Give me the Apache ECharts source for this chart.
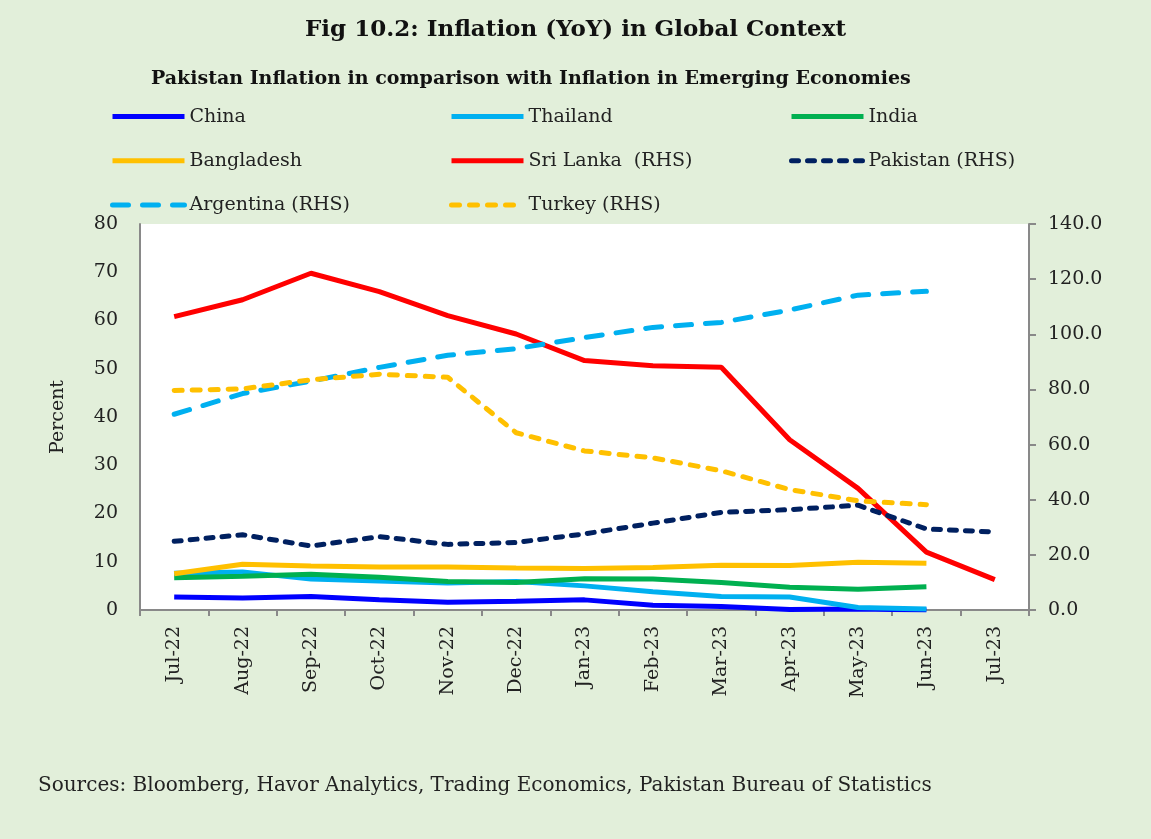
<!DOCTYPE html>
<html>
<head>
<meta charset="utf-8">
<title>Inflation in Global Context</title>
<script src="https://cdn.jsdelivr.net/npm/echarts@6/dist/echarts.min.js"></script>
<style>
  html, body { margin: 0; padding: 0; background: #e2efda; }
</style>
</head>
<body>
<div id="main" style="width: 1151px; height: 839px;"></div>
<script type="text/javascript">
// months on the x axis
var months = ['Jul-22', 'Aug-22', 'Sep-22', 'Oct-22', 'Nov-22', 'Dec-22',
              'Jan-23', 'Feb-23', 'Mar-23', 'Apr-23', 'May-23', 'Jun-23', 'Jul-23'];

// left axis (percent)
var china      = [2.7, 2.5, 2.8, 2.1, 1.6, 1.8, 2.1, 1.0, 0.7, 0.1, 0.2, 0.0, null];
var thailand   = [7.6, 7.9, 6.4, 6.0, 5.6, 5.9, 5.0, 3.8, 2.8, 2.7, 0.5, 0.2, null];
var india      = [6.7, 7.0, 7.4, 6.8, 5.9, 5.7, 6.5, 6.4, 5.7, 4.7, 4.3, 4.8, null];
var bangladesh = [7.5, 9.5, 9.1, 8.9, 8.9, 8.7, 8.6, 8.8, 9.3, 9.2, 9.9, 9.7, null];
var sriLanka   = [60.8, 64.3, 69.8, 66.0, 61.0, 57.2, 51.7, 50.6, 50.3, 35.3, 25.2, 12.0, 6.3];

// right axis
var pakistan   = [24.9, 27.3, 23.2, 26.6, 23.8, 24.5, 27.6, 31.5, 35.4, 36.4, 38.0, 29.4, 28.3];
var argentina  = [71.0, 78.5, 83.0, 88.0, 92.4, 94.8, 98.8, 102.5, 104.3, 108.8, 114.2, 115.6, null];
var turkey     = [79.6, 80.2, 83.5, 85.5, 84.4, 64.3, 57.7, 55.2, 50.5, 43.7, 39.6, 38.2, null];

var leftTicks = { min: 0, max: 80, interval: 10 };
var rightTicks = { min: 0, max: 140, interval: 20 };

var font = '"DejaVu Serif", "Liberation Serif", serif';

function line(name, data, color, axis, dash) {
  return {
    name: name,
    type: 'line',
    data: data,
    yAxisIndex: axis,
    showSymbol: false,
    symbol: 'none',
    connectNulls: false,
    lineStyle: {
      color: color,
      width: 5,
      type: dash || 'solid',
      cap: dash ? 'round' : 'butt'
    },
    itemStyle: { color: color }
  };
}

var myChart = echarts.init(document.getElementById('main'));

var legendText = { fontFamily: font, fontSize: 19, color: '#222' };

function legendCol(names, x) {
  return {
    data: names,
    orient: 'vertical', left: x, top: 102, itemGap: 25,
    itemWidth: 72, itemHeight: 24,
    itemStyle: { opacity: 0 },
    lineStyle: { width: 5 },
    textStyle: legendText
  };
}

var option = {
  backgroundColor: '#e2efda',
  animation: false,
  title: [{
    text: 'Fig 10.2: Inflation (YoY) in Global Context',
    left: 'center',
    top: 14,
    textStyle: { fontFamily: font, fontSize: 23, fontWeight: 'bold', color: '#111' }
  }, {
    text: 'Pakistan Inflation in comparison with Inflation in Emerging Economies',
    left: 146,
    top: 65,
    textStyle: { fontFamily: font, fontSize: 19, fontWeight: 'bold', color: '#111' }
  }, {
    text: 'Sources: Bloomberg, Havor Analytics, Trading Economics, Pakistan Bureau of Statistics',
    left: 33,
    top: 771,
    textStyle: { fontFamily: font, fontSize: 20, fontWeight: 'normal', color: '#222' }
  }],
  legend: [
    legendCol(['China', 'Bangladesh', 'Argentina (RHS)'], 105),
    legendCol(['Thailand', 'Sri Lanka  (RHS)', 'Turkey (RHS)'], 444),
    legendCol(['India', 'Pakistan (RHS)'], 784)
  ],
  grid: {
    left: 140, right: 122, top: 224, bottom: 229,
    show: true, backgroundColor: '#ffffff', borderWidth: 0
  },
  xAxis: {
    type: 'category',
    data: months,
    boundaryGap: true,
    axisLine: { lineStyle: { color: '#898989', width: 2 } },
    axisTick: { show: true, length: 6, interval: 0, lineStyle: { color: '#898989', width: 2 } },
    axisLabel: { interval: 0, rotate: 90, margin: 16, fontFamily: font, fontSize: 19, color: '#222' }
  },
  yAxis: [{
    type: 'value',
    min: leftTicks.min, max: leftTicks.max, interval: leftTicks.interval,
    name: 'Percent',
    nameLocation: 'middle',
    nameGap: 72,
    nameTextStyle: { fontFamily: font, fontSize: 19, color: '#222' },
    axisLine: { show: true, lineStyle: { color: '#898989', width: 2 } },
    axisTick: { show: false },
    splitLine: { show: false },
    axisLabel: { margin: 22, fontFamily: font, fontSize: 19, color: '#222' }
  }, {
    type: 'value',
    position: 'right',
    min: rightTicks.min, max: rightTicks.max, interval: rightTicks.interval,
    axisLine: { show: true, lineStyle: { color: '#898989', width: 2 } },
    axisTick: { show: true, length: 7, lineStyle: { color: '#898989', width: 2 } },
    splitLine: { show: false },
    axisLabel: {
      margin: 19, fontFamily: font, fontSize: 19, color: '#222',
      formatter: function (v) { return v.toFixed(1); }
    }
  }],
  series: [
    line('China', china, '#0000ff', 0),
    line('Thailand', thailand, '#00b0f0', 0),
    line('India', india, '#00b050', 0),
    line('Bangladesh', bangladesh, '#ffc000', 0),
    line('Sri Lanka  (RHS)', sriLanka, '#ff0000', 0),
    line('Pakistan (RHS)', pakistan, '#002060', 1, [7, 9]),
    line('Argentina (RHS)', argentina, '#00b0f0', 1, [16, 14]),
    line('Turkey (RHS)', turkey, '#ffc000', 1, [8, 10])
  ]
};

myChart.setOption(option);
</script>
</body>
</html>
